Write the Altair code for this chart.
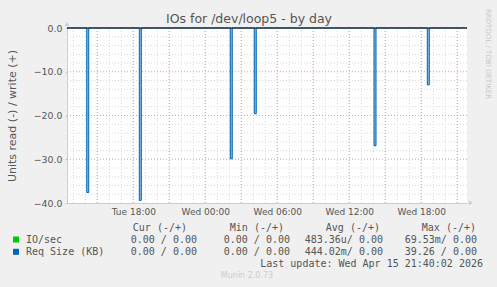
import altair as alt
import pandas as pd

# ---- data (hours since Tue 00:00) ----
spike_start_h = [14.12, 18.50, 26.08, 28.08, 38.06, 42.50]
spike_value = [-37.6, -39.4, -29.9, -19.6, -26.9, -13.0]
spike_len_h = 0.1667  # two 5-minute samples

x_domain = [12.475, 45.81]
y_domain = [-40, 0]

tick_hours = [18, 24, 30, 36, 42]
tick_labels = ["Tue 18:00", "Wed 00:00", "Wed 06:00", "Wed 12:00", "Wed 18:00"]
minor_hours = list(range(13, 46))
major_hours = [15, 18, 21, 24, 27, 30, 33, 36, 39, 42, 45]
y_ticks = [0, -10, -20, -30, -40]
minor_y = [-2, -4, -6, -8, -12, -14, -16, -18, -22, -24, -26, -28, -32, -34, -36, -38]
major_y = [-10, -20, -30]

legend_names = ["IO/sec", "Req Size (KB)"]
legend_colors = ["#00cc00", "#0066b3"]
cur_vals = ["0.00 / 0.00", "0.00 / 0.00"]
min_vals = ["0.00 / 0.00", "0.00 / 0.00"]
avg_vals = ["483.36u/ 0.00", "444.02m/ 0.00"]
max_vals = ["69.53m/ 0.00", "39.26 / 0.00"]

# ---- build tables ----
rows = [{"h": x_domain[0], "v": 0}]
for s, v in zip(spike_start_h, spike_value):
    rows += [{"h": s, "v": 0}, {"h": s, "v": v}, {"h": s + spike_len_h, "v": v}, {"h": s + spike_len_h, "v": 0}]
rows.append({"h": x_domain[1], "v": 0})
series = pd.DataFrame(rows)

W, H = 400, 175
xs = alt.Scale(domain=x_domain, nice=False, zero=False)
ys = alt.Scale(domain=y_domain, nice=False, zero=False)

label_expr = "{" + ",".join(f"'{h}':'{l}'" for h, l in zip(tick_hours, tick_labels)) + "}[datum.value]"

xaxis = alt.Axis(values=tick_hours, labelExpr=label_expr, title=None, grid=False,
                 domainColor="#c8c8f0", tickColor="#e8a0a0", tickSize=0,
                 labelColor="#555555", labelFont="DejaVu Sans", labelFontSize=9,
                 labelPadding=4)
yaxis = alt.Axis(values=y_ticks, format=".1f", title="Units read (-) / write (+)",
                 grid=False, domainColor="#c8c8f0", tickColor="#c8c8f0", tickSize=2,
                 labelColor="#555555", labelFont="DejaVu Sans", labelFontSize=9.4,
                 labelPadding=3, titleColor="#555555", titleFont="DejaVu Sans",
                 titleFontSize=11, titleFontWeight="normal", titlePadding=16)

X = lambda f: alt.X(f, scale=xs, axis=xaxis)
Y = lambda f: alt.Y(f, scale=ys, axis=yaxis)

grid_minor_v = alt.Chart(pd.DataFrame({"h": minor_hours})).mark_rule(
    color="#d8d8d8", strokeDash=[1, 2], strokeWidth=1).encode(x=X("h:Q"))
grid_major_v = alt.Chart(pd.DataFrame({"h": major_hours})).mark_rule(
    color="#e49a9a", strokeDash=[1, 2], strokeWidth=1).encode(x=X("h:Q"))
grid_minor_h = alt.Chart(pd.DataFrame({"v": minor_y})).mark_rule(
    color="#d8d8d8", strokeDash=[1, 2], strokeWidth=1).encode(y=Y("v:Q"))
grid_major_h = alt.Chart(pd.DataFrame({"v": major_y})).mark_rule(
    color="#e49a9a", strokeDash=[1, 2], strokeWidth=1).encode(y=Y("v:Q"))

area = alt.Chart(series).mark_area(color="#8dbbe2", opacity=1).encode(x=X("h:Q"), y=Y("v:Q"))
line = alt.Chart(series).mark_line(color="#0066b3", strokeWidth=1).encode(x=X("h:Q"), y=Y("v:Q"))
zero_rule = alt.Chart(pd.DataFrame({"v": [0]})).mark_rule(color="#000000", strokeWidth=1).encode(y=Y("v:Q"))

one = alt.Data(values=[{}])

def txt(text, x, y, align="left", size=10, color="#555555", font="DejaVu Sans Mono", angle=0):
    kw = dict(text=text, align=align, baseline="middle", fontSize=size, color=color, font=font)
    if angle:
        kw["angle"] = angle
    return alt.Chart(one).mark_text(**kw).encode(x=alt.value(x), y=alt.value(y))

def arrow(shape, x, y):
    return alt.Chart(one).mark_point(shape=shape, filled=True, color="#c8c8f0", size=22, opacity=1).encode(
        x=alt.value(x), y=alt.value(y))

ox, oy = 67, 28
texts = [
    arrow("triangle-up", 0, -4),
    arrow("triangle-right", W + 4, H),
    txt("IOs for /dev/loop5 - by day", 249 - ox, 19 - oy, align="center", size=12.5, font="DejaVu Sans"),
    txt("RRDTOOL / TOBI OETIKER", 488 - ox, 54 - oy, align="center", size=7, color="#c8c8c8",
        font="DejaVu Sans", angle=90),
    txt("Cur (-/+)", 187 - ox, 228 - oy, align="right"),
    txt("Min (-/+)", 284 - ox, 228 - oy, align="right"),
    txt("Avg (-/+)", 380 - ox, 228 - oy, align="right"),
    txt("Max (-/+)", 476 - ox, 228 - oy, align="right"),
    txt("Last update: Wed Apr 15 21:40:02 2026", 483 - ox, 264 - oy, align="right"),
    txt("Munin 2.0.73", 247 - ox, 276 - oy, align="center", size=8, color="#cccccc", font="DejaVu Sans"),
]
for i, (nm, col) in enumerate(zip(legend_names, legend_colors)):
    ry = 239.5 + i * 12.3
    texts.append(alt.Chart(one).mark_square(color=col, size=36, opacity=1, filled=True).encode(
        x=alt.value(16 - ox), y=alt.value(ry - oy)))
    texts.append(txt(nm, 26 - ox, ry - oy))
    texts.append(txt(cur_vals[i], 197 - ox, ry - oy, align="right"))
    texts.append(txt(min_vals[i], 290 - ox, ry - oy, align="right"))
    texts.append(txt(avg_vals[i], 383 - ox, ry - oy, align="right"))
    texts.append(txt(max_vals[i], 477 - ox, ry - oy, align="right"))

chart = alt.layer(
    grid_minor_v, grid_minor_h, grid_major_v, grid_major_h, area, line, zero_rule, *texts
).properties(
    width=W, height=H,
    autosize=alt.AutoSizeParams(type="none"),
    padding={"left": ox, "top": oy, "right": 497 - ox - W, "bottom": 287 - oy - H},
    background="#f0f0f0",
).configure_view(fill="white", stroke=None)

chart.save("out.html", embed_options={"renderer": "svg", "actions": False})
